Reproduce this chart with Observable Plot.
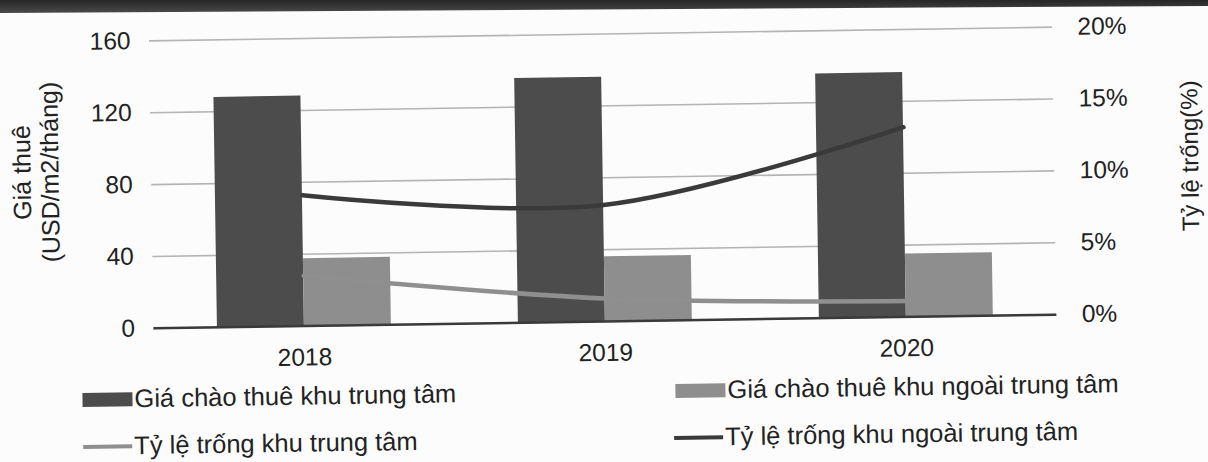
<!DOCTYPE html>
<html>
<head>
<meta charset="utf-8">
<script src="https://cdn.jsdelivr.net/npm/d3@7"></script>
<script src="https://cdn.jsdelivr.net/npm/@observablehq/plot@0.6"></script>
<style>
  html, body { margin: 0; padding: 0; background: #fcfcfc; }
  body { width: 1208px; height: 462px; overflow: hidden; position: relative;
         font-family: "Liberation Sans", Arial, sans-serif; color: #222; }
  #band { position: absolute; left: 0; top: 0; width: 1208px; height: 14px;
          background: linear-gradient(#262626, #4d4d4d);
          clip-path: polygon(0 0, 100% 0, 100% 6px, 0 13px); }
  #sheet { position: absolute; left: 0; top: 0; width: 1208px; height: 462px;
           transform: rotate(-0.87deg); transform-origin: 604px 231px; }
  #chart { position: absolute; left: 0; top: 0; }
  #chart svg { display: block; }
  .item { position: absolute; font-size: 25.5px; line-height: 30px; white-space: nowrap; color: #222; }
  .sw { position: absolute; }
</style>
</head>
<body>
<div id="band"></div>
<div id="sheet">
  <div id="chart"></div>
  <div id="legend"></div>
</div>
<script>
// Office rents (USD/m2/month) and vacancy rates (%), 2018–2020
const years = [2018, 2019, 2020];
const rentCentral = [128, 136, 136];
const rentOuter = [37.5, 36, 35];
const vacancyCentral = [3.5, 1.6, 1.1];
const vacancyOuter = [9.1, 8.1, 13.2];

const rentTicks = [0, 40, 80, 120, 160];
const vacancyTicks = [0, 5, 10, 15, 20];

const seriesNames = {
  rentCentral: "Giá chào thuê khu trung tâm",
  rentOuter: "Giá chào thuê khu ngoài trung tâm",
  vacancyCentral: "Tỷ lệ trống khu trung tâm",
  vacancyOuter: "Tỷ lệ trống khu ngoài trung tâm"
};

const colors = {
  rentCentral: "#4c4c4c",
  rentOuter: "#8e8e8e",
  vacancyCentral: "#8f8f8f",
  vacancyOuter: "#3a3a3a"
};

// the vacancy axis (0–20%) is drawn against the rent scale (0–160)
const pctToRent = 160 / 20;
const barWidth = 0.289; // fraction of a year band per bar

const rows = years.map((year, i) => ({
  year,
  rentCentral: rentCentral[i],
  rentOuter: rentOuter[i],
  vacancyCentral: vacancyCentral[i],
  vacancyOuter: vacancyOuter[i]
}));

const chart = Plot.plot({
  width: 1208,
  height: 362,
  marginLeft: 152,
  marginRight: 153,
  marginTop: 33.5,
  marginBottom: 41,
  style: {
    fontFamily: "'Liberation Sans', Arial, sans-serif",
    fontSize: "24.5px",
    color: "#222",
    background: "transparent",
    overflow: "visible"
  },
  x: { domain: [2017.5, 2020.5] },
  y: { domain: [0, 160] },
  marks: [
    Plot.gridY(rentTicks, { stroke: "#b4b4b4", strokeOpacity: 1, strokeWidth: 1.6 }),
    Plot.rectY(rows, {
      x1: d => d.year - barWidth, x2: d => d.year,
      y: "rentCentral", fill: colors.rentCentral
    }),
    Plot.rectY(rows, {
      x1: d => d.year, x2: d => d.year + barWidth,
      y: "rentOuter", fill: colors.rentOuter
    }),
    Plot.ruleY([0], { stroke: "#3a3a3a", strokeWidth: 2.5 }),
    Plot.line(rows, {
      x: "year", y: d => d.vacancyCentral * pctToRent,
      curve: "catmull-rom", stroke: colors.vacancyCentral, strokeWidth: 4.5
    }),
    Plot.line(rows, {
      x: "year", y: d => d.vacancyOuter * pctToRent,
      curve: "catmull-rom", stroke: colors.vacancyOuter, strokeWidth: 4.5
    }),
    Plot.axisX(years, { tickSize: 0, tickPadding: 22, tickFormat: d => String(d), label: null }),
    Plot.axisY(rentTicks, { anchor: "left", tickSize: 0, tickPadding: 19, label: null }),
    Plot.axisY(vacancyTicks.map(p => p * pctToRent), {
      anchor: "right", tickSize: 0, tickPadding: 25, label: null,
      tickFormat: d => `${d / pctToRent}%`
    }),
    Plot.text(["Giá thuê\n(USD/m2/tháng)"], {
      frameAnchor: "left", textAnchor: "middle", lineAnchor: "middle",
      rotate: -90, dx: -116, dy: -14,
      fontSize: 25, lineHeight: 1.12, fill: "#222"
    }),
    Plot.text(["Tỷ lệ trống(%)"], {
      frameAnchor: "right", textAnchor: "middle", lineAnchor: "middle",
      rotate: -90, dx: 136, dy: -13,
      fontSize: 24, fill: "#222"
    })
  ]
});
document.getElementById("chart").appendChild(chart);

// legend: two rows, two columns
const legend = document.getElementById("legend");
const legendItems = [
  { key: "rentCentral", kind: "bar", left: 80, cy: 392 },
  { key: "rentOuter", kind: "bar", left: 673, cy: 392 },
  { key: "vacancyCentral", kind: "line", left: 80, cy: 439 },
  { key: "vacancyOuter", kind: "line", left: 671, cy: 439 }
];
for (const item of legendItems) {
  const sw = document.createElement("div");
  sw.className = "sw";
  const h = item.kind === "bar" ? 14 : 4.5;
  const w = item.kind === "bar" ? 50 : 49;
  sw.style.left = item.left + "px";
  sw.style.top = (item.cy - h / 2) + "px";
  sw.style.width = w + "px";
  sw.style.height = h + "px";
  sw.style.background = colors[item.key];
  legend.appendChild(sw);
  const label = document.createElement("div");
  label.className = "item";
  label.textContent = seriesNames[item.key];
  label.style.left = (item.left + w + 2) + "px";
  label.style.top = (item.cy - 16) + "px";
  legend.appendChild(label);
}
</script>
</body>
</html>
